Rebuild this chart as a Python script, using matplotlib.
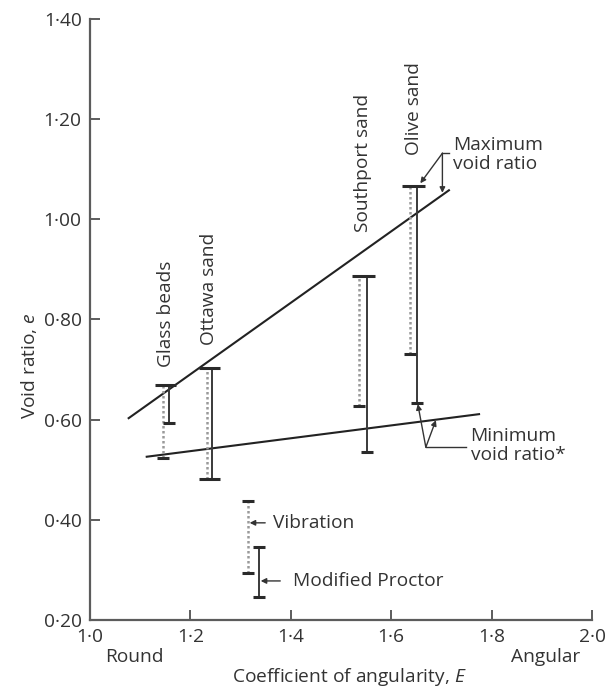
import matplotlib
matplotlib.use("Agg")
import matplotlib.pyplot as plt

plt.rcParams['font.family'] = ['Open Sans', 'DejaVu Sans']
plt.rcParams['mathtext.fontset'] = 'custom'
plt.rcParams['mathtext.it'] = 'Open Sans:italic'
plt.rcParams['mathtext.rm'] = 'Open Sans'

# ---------------- data ----------------
materials = ["Glass beads", "Ottawa sand", "Southport sand", "Olive sand"]
vib_x = [1.145, 1.233, 1.536, 1.637]
vib_max = [0.670, 0.704, 0.887, 1.067]
vib_min = [0.523, 0.481, 0.628, 0.732]
proc_x = [1.157, 1.243, 1.552, 1.652]
proc_max = [0.670, 0.704, 0.887, 1.067]
proc_min = [0.593, 0.481, 0.535, 0.633]

# legend ranges (Vibration / Modified Proctor)
legend_vib_x, legend_vib_range = 1.315, (0.294, 0.438)
legend_proc_x, legend_proc_range = 1.337, (0.245, 0.346)

# trend lines
max_line_x = [1.077, 1.715]
max_line_y = [0.603, 1.058]
min_line_x = [1.113, 1.775]
min_line_y = [0.526, 0.611]

xticks = [1.0, 1.2, 1.4, 1.6, 1.8, 2.0]
xtick_labels = ["1·0", "1·2", "1·4", "1·6", "1·8", "2·0"]
yticks = [0.20, 0.40, 0.60, 0.80, 1.00, 1.20, 1.40]
ytick_labels = ["0·20", "0·40", "0·60", "0·80", "1·00", "1·20", "1·40"]

# label positions (bottom of rotated text)
label_y = [0.705, 0.749, 0.974, 1.128]

FS = 13.8

# ---------------- figure ----------------
W, H = 616, 691
fig = plt.figure(figsize=(W / 100, H / 100), dpi=100)
ax = fig.add_axes([90 / W, (H - 620) / H, (592 - 90) / W, (620 - 19) / H])
ax.set_xlim(1.0, 2.0)
ax.set_ylim(0.20, 1.40)

spine_c = '#5c5c5c'
txt_c = '#333333'
for s in ['top', 'right']:
    ax.spines[s].set_visible(False)
for s in ['left', 'bottom']:
    ax.spines[s].set_color(spine_c)
    ax.spines[s].set_linewidth(1.6)

ax.set_xticks(xticks)
ax.set_xticklabels(xtick_labels)
ax.set_yticks(yticks)
ax.set_yticklabels(ytick_labels)
ax.tick_params(direction='in', length=7, width=1.4, color=spine_c,
               labelsize=FS, labelcolor=txt_c, pad=6)

solid_c = '#3a3a3a'
dot_c = '#9a9a9a'
cap_c = '#2a2a2a'
dot_style = (0, (1, 1))


def vline_solid(x, lo, hi):
    ax.plot([x, x], [lo, hi], color=solid_c, lw=1.4, solid_capstyle='butt', zorder=3)


def vline_dot(x, lo, hi):
    ax.plot([x, x], [lo, hi], color=dot_c, lw=1.8, linestyle=dot_style, zorder=3)


def cap(x0, x1, y):
    ax.plot([x0, x1], [y, y], color=cap_c, lw=2.2, solid_capstyle='butt', zorder=4)


ext = 0.015
half = 0.012
for i in range(len(materials)):
    vx, px = vib_x[i], proc_x[i]
    vline_dot(vx, vib_min[i], vib_max[i])
    vline_solid(px, proc_min[i], proc_max[i])
    # top caps
    if abs(vib_max[i] - proc_max[i]) < 1e-6:
        cap(vx - ext, px + ext, vib_max[i])
    else:
        cap(vx - half, vx + half, vib_max[i])
        cap(px - half, px + half, proc_max[i])
    # bottom caps
    if abs(vib_min[i] - proc_min[i]) < 1e-6:
        cap(vx - ext, px + ext, vib_min[i])
    else:
        cap(vx - half, vx + half, vib_min[i])
        cap(px - half, px + half, proc_min[i])
    ax.text((vx + px) / 2, label_y[i], materials[i], rotation=90,
            ha='center', va='bottom', fontsize=FS, color=txt_c)

# legend bars
vline_dot(legend_vib_x, *legend_vib_range)
cap(legend_vib_x - half, legend_vib_x + half, legend_vib_range[0])
cap(legend_vib_x - half, legend_vib_x + half, legend_vib_range[1])
vline_solid(legend_proc_x, *legend_proc_range)
cap(legend_proc_x - half, legend_proc_x + half, legend_proc_range[0])
cap(legend_proc_x - half, legend_proc_x + half, legend_proc_range[1])

arrow_kw = dict(arrowstyle='-|>', color='#333333', lw=1.0, mutation_scale=8,
                shrinkA=0, shrinkB=0)
ax.annotate('', xy=(legend_vib_x + 0.003, 0.394), xytext=(1.349, 0.394), arrowprops=arrow_kw)
ax.text(1.365, 0.394, 'Vibration', ha='left', va='center', fontsize=FS, color=txt_c)
ax.annotate('', xy=(legend_proc_x + 0.003, 0.278), xytext=(1.379, 0.278), arrowprops=arrow_kw)
ax.text(1.405, 0.278, 'Modified Proctor', ha='left', va='center', fontsize=FS, color=txt_c)

# trend lines
ax.plot(max_line_x, max_line_y, color='#222222', lw=1.5, zorder=2)
ax.plot(min_line_x, min_line_y, color='#222222', lw=1.5, zorder=2)

# Maximum void ratio annotation
cx, cy = 1.702, 1.132
ax.plot([cx, 1.715], [cy, cy], color='#333333', lw=1.0)
ax.annotate('', xy=(1.658, 1.072), xytext=(cx, cy), arrowprops=arrow_kw)
ax.annotate('', xy=(cx, 1.053), xytext=(cx, cy), arrowprops=arrow_kw)
ax.text(1.7226, 1.130, 'Maximum\nvoid ratio', ha='left', va='center', fontsize=FS,
        color=txt_c, linespacing=1.1)

# Minimum void ratio annotation
mx, my = 1.669, 0.545
ax.plot([mx, 1.749], [my, my], color='#333333', lw=1.0)
ax.annotate('', xy=(1.653, 0.631), xytext=(mx, my), arrowprops=arrow_kw)
ax.annotate('', xy=(1.689, 0.599), xytext=(mx, my), arrowprops=arrow_kw)
ax.text(1.758, 0.549, 'Minimum\nvoid ratio*', ha='left', va='center', fontsize=FS,
        color=txt_c, linespacing=1.1)

# axis labels
fig.text(28.6 / W, 1 - 366 / H, 'Void ratio, $e$', rotation=90, ha='center', va='center',
         fontsize=FS, color=txt_c)
fig.text(105 / W, 1 - 657 / H, 'Round', ha='left', va='center', fontsize=FS, color=txt_c)
fig.text(545.5 / W, 1 - 657 / H, 'Angular', ha='center', va='center', fontsize=FS, color=txt_c)
fig.text(349 / W, 1 - 677 / H, 'Coefficient of angularity, $E$', ha='center', va='center',
         fontsize=FS, color=txt_c)

fig.savefig('out.png', dpi=100)
